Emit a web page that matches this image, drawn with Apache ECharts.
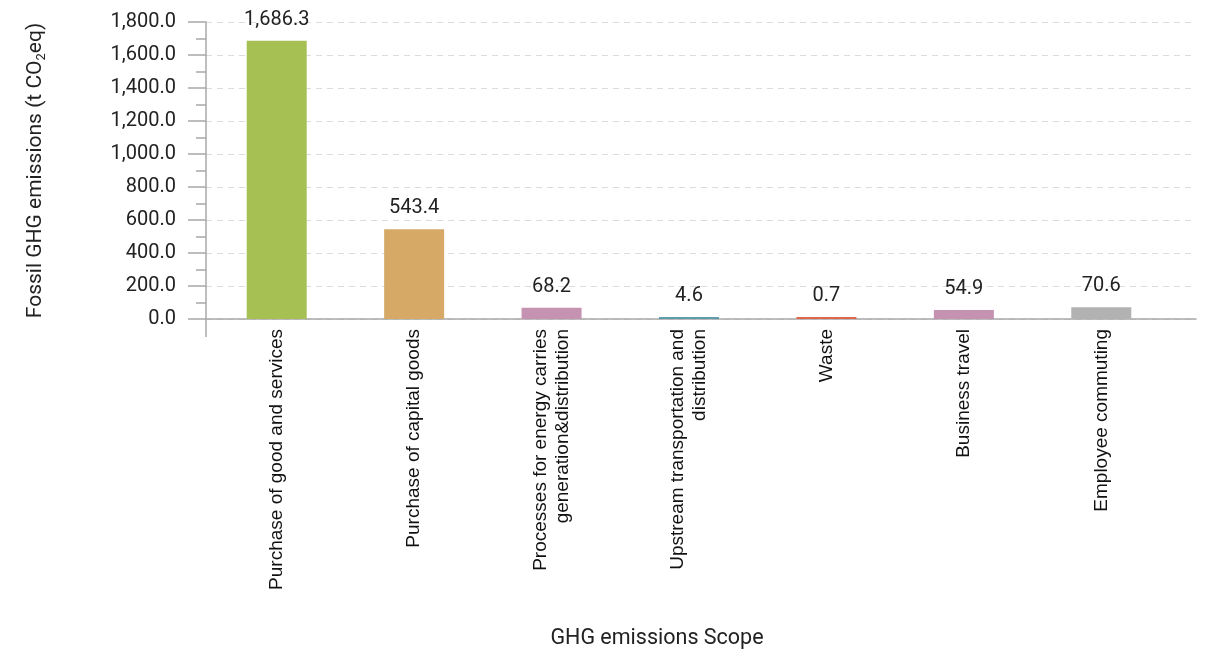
<!DOCTYPE html>
<html>
<head>
<meta charset="utf-8">
<script src="https://cdn.jsdelivr.net/npm/echarts@6/dist/echarts.min.js"></script>
<style>
  html, body { margin: 0; padding: 0; background: #fff; }
  #chart { width: 1214px; height: 652px; }
</style>
</head>
<body>
<div id="chart"></div>
<script>
// categories (GHG scope 3 items)
const categories = [
  'Purchase of good and services',
  'Purchase of capital goods',
  'Processes for energy carries\ngeneration&distribution',
  'Upstream transportation and\ndistribution',
  'Waste',
  'Business travel',
  'Employee commuting'
];
// emissions, t CO2eq
const emissions = [1686.3, 543.4, 68.2, 4.6, 0.7, 54.9, 70.6];
const barColors = ['#a6c054', '#d6aa66', '#c692b2', '#5e9cac', '#e0664b', '#c692b2', '#b2b2b2'];
// y axis ticks
const yMin = 0, yMax = 1800, yStep = 200;

const fmt = v => v.toLocaleString('en-US', { minimumFractionDigits: 1, maximumFractionDigits: 1 });

const chart = echarts.init(document.getElementById('chart'));

const gridLeft = 206, gridBottom = 333;
const axisGrey = '#a8a8a8';

const option = {
  animation: false,
  // grid 0 = frame (axes, gridlines), grid 1 = bars; the bars don't fill the full axis width
  grid: [
    { left: gridLeft, right: 18, top: 22, bottom: gridBottom },
    { left: 208, right: 44, top: 22, bottom: gridBottom }
  ],
  xAxis: [{
    gridIndex: 0,
    type: 'value', min: 0, max: 1,
    name: 'GHG emissions Scope',
    nameLocation: 'middle',
    nameGap: 309,
    nameTextStyle: { fontFamily: 'Roboto', fontSize: 21.5, color: '#222', padding: [0, 88, 0, 0] },
    axisLine: { show: true, onZero: false, lineStyle: { color: axisGrey, width: 1.5 } },
    axisTick: { show: false },
    axisLabel: { show: false },
    splitLine: { show: false }
  }, {
    gridIndex: 1,
    type: 'category',
    data: categories,
    axisLine: { show: false },
    axisTick: { show: false },
    axisLabel: {
      rotate: 90, interval: 0, margin: 10,
      fontFamily: 'Liberation Sans', fontSize: 19, color: '#111', lineHeight: 22
    }
  }],
  yAxis: [{
    gridIndex: 0,
    type: 'value',
    min: yMin, max: yMax, interval: yStep,
    name: 'Fossil GHG emissions (t CO{sub|2}eq)',
    nameLocation: 'middle',
    nameGap: 158,
    nameRotate: 90,
    nameTextStyle: {
      fontFamily: 'Roboto', fontSize: 21, color: '#222',
      rich: { sub: { fontFamily: 'Roboto', fontSize: 13, color: '#222', verticalAlign: 'bottom', padding: [12, 0, 0, 0] } }
    },
    axisLine: { show: true, lineStyle: { color: axisGrey, width: 1.5 } },
    axisTick: { show: true, length: 18, lineStyle: { color: axisGrey, width: 1.5 } },
    minorTick: { show: true, splitNumber: 2, length: 10, lineStyle: { color: axisGrey, width: 1.5 } },
    axisLabel: { margin: 30, fontFamily: 'Roboto', fontSize: 20, color: '#222', formatter: v => fmt(v) },
    splitLine: { show: true, lineStyle: { color: '#dcdcdc', type: [6, 5] } }
  }, {
    gridIndex: 1,
    type: 'value',
    min: yMin, max: yMax, interval: yStep,
    show: false
  }],
  // y axis line runs a little below the x axis, as in the original
  graphic: [{
    type: 'line',
    shape: { x1: gridLeft, y1: 652 - gridBottom, x2: gridLeft, y2: 652 - gridBottom + 18 },
    style: { stroke: axisGrey, lineWidth: 1.5 }
  }],
  series: [{
    type: 'bar',
    xAxisIndex: 1,
    yAxisIndex: 1,
    barWidth: 60,
    barMinHeight: 2,
    data: emissions.map((v, i) => ({ value: v, itemStyle: { color: barColors[i] } })),
    label: {
      show: true, position: 'top', distance: 11,
      fontFamily: 'Roboto', fontSize: 20, color: '#222',
      formatter: p => fmt(p.value)
    }
  }]
};

chart.setOption(option);
</script>
</body>
</html>
